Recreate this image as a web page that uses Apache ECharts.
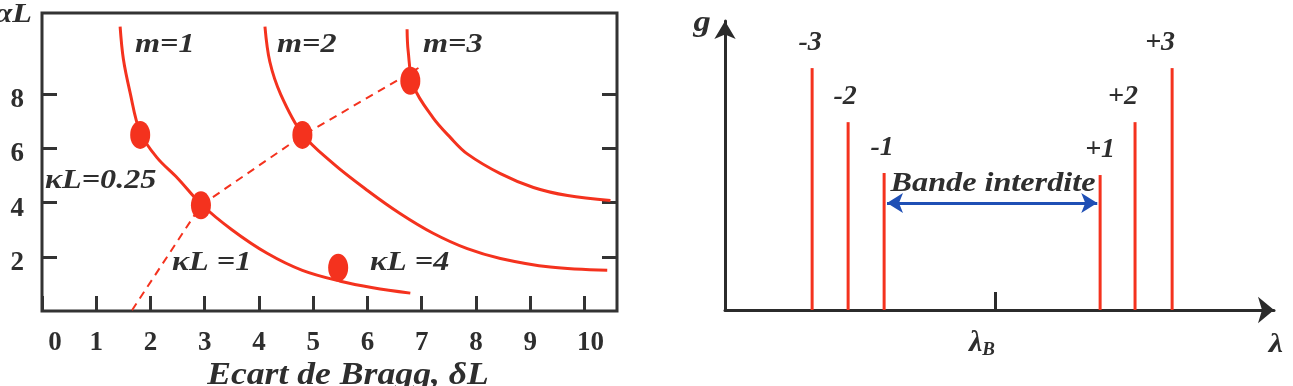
<!DOCTYPE html>
<html>
<head>
<meta charset="utf-8">
<script src="https://cdn.jsdelivr.net/npm/echarts@6/dist/echarts.min.js"></script>
<style>
  html, body { margin: 0; padding: 0; background: #fff; }
  #chart { width: 1293px; height: 386px; }
</style>
</head>
<body>
<div id="chart"></div>
<script>
// left panel : detuning dL vs gain aL for orders m=1..3
var xLabels = ['0', '1', '2', '3', '4', '5', '6', '7', '8', '9', '10'];
var yTickVals = [2, 4, 6, 8];
var curveM1 = [[1.44, 10.5], [1.5, 9.3], [1.62, 8.1], [1.81, 6.6], [2.12, 5.66], [2.5, 4.9],
               [2.93, 3.95], [3.5, 3.0], [4.15, 2.13], [4.8, 1.5], [5.5, 1.1], [6.1, 0.86], [6.79, 0.66]];
var curveM2 = [[4.11, 10.5], [4.2, 9.2], [4.4, 8.0], [4.8, 6.54], [5.37, 5.44], [6.0, 4.45],
               [6.6, 3.6], [7.21, 2.87], [7.84, 2.3], [8.45, 1.94], [9.37, 1.62], [10.42, 1.5]];
var curveM3 = [[6.73, 10.4], [6.75, 9.6], [6.85, 8.3], [7.21, 7.13], [7.53, 6.4], [7.84, 5.8],
               [8.45, 5.07], [9.06, 4.56], [9.69, 4.26], [10.48, 4.08]];
var kappaLine = [[1.66, 0.03], [2.93, 3.9], [4.8, 6.47], [6.94, 8.97]];
var dots = [[1.81, 6.5], [2.93, 3.9], [4.8, 6.5], [6.79, 8.5], [5.46, 1.6]];

// right panel : sticks around lambda_B
var stickPos = [-5.08, -4.08, -3.08, 2.92, 3.89, 4.92];
var stickHeight = [8.37, 6.5, 4.74, 4.67, 6.5, 8.37];
var stickLabels = ['-3', '-2', '-1', '+1', '+2', '+3'];
var bandEdges = [-3.08, 2.92];
var bandLevel = 3.7;

var RED = '#f4321e', INK = '#2e2e2e', FONT = '"Liberation Serif", "Times New Roman", serif';
var stickLabelShift = [-2, -3, -2, 0, -12, -12];

function txt(s, x, y, size, align) {
  return {
    type: 'text', x: x, y: y, z: 50, scaleX: 1.15,
    style: {
      text: s, fill: INK, textAlign: align || 'left', textVerticalAlign: 'middle',
      font: 'italic bold ' + size + 'px ' + FONT
    }
  };
}

var chart = echarts.init(document.getElementById('chart'));

var curveStyle = { type: 'line', smooth: 0.35, showSymbol: false, silent: true,
  lineStyle: { color: RED, width: 3 }, xAxisIndex: 0, yAxisIndex: 0 };

var tickFont = { fontFamily: FONT, fontWeight: 'bold', fontSize: 27, color: INK };

var option = {
  backgroundColor: '#fff',
  animation: false,
  grid: [
    { left: 42, top: 13, width: 575, height: 298, show: true, borderColor: '#333', borderWidth: 3 },
    { left: 725, top: 21, right: 19, bottom: 76 }
  ],
  xAxis: [
    {
      gridIndex: 0, type: 'value', min: 0, max: 10.6, interval: 1,
      axisLine: { show: false }, splitLine: { show: false },
      axisTick: { inside: true, length: 15, lineStyle: { color: '#333', width: 3 } },
      axisLabel: {
        showMaxLabel: false, margin: 19,
        fontFamily: FONT, fontWeight: 'bold', fontSize: 27, color: INK,
        formatter: function (v) {
          var s = xLabels[Math.round(v)];
          if (v === 0) return '{z|' + s + '}';
          if (v === 10) return '{t|' + s + '}';
          return '{n|' + s + '}';
        },
        rich: {
          n: tickFont,
          z: Object.assign({ padding: [0, 0, 0, 26] }, tickFont),
          t: Object.assign({ padding: [0, 0, 0, 12] }, tickFont)
        }
      }
    },
    {
      gridIndex: 1, type: 'value', min: -7.5, max: 7.75,
      splitLine: { show: false },
      axisLine: { onZero: false, lineStyle: { color: '#2b2b2b', width: 3 }, symbol: ['none', 'arrow'], symbolSize: [20, 16] },
      axisTick: { customValues: [0], inside: true, length: 18, lineStyle: { color: '#2b2b2b', width: 3 } },
      axisLabel: {
        customValues: [0], margin: 17, align: 'right',
        formatter: function () { return '{l|λ}{s|B}'; },
        rich: {
          l: { fontFamily: FONT, fontStyle: 'italic', fontWeight: 'bold', fontSize: 30, color: INK },
          s: { fontFamily: FONT, fontStyle: 'italic', fontWeight: 'bold', fontSize: 19, color: INK, padding: [14, 0, 0, 0] }
        }
      }
    }
  ],
  yAxis: [
    {
      gridIndex: 0, type: 'value', min: 0, max: 11,
      axisLine: { show: false }, splitLine: { show: false },
      axisTick: { customValues: yTickVals, inside: true, length: 15, lineStyle: { color: '#333', width: 3 } },
      axisLabel: {
        customValues: yTickVals, margin: 18,
        formatter: function (v) { return '{n|' + v + '}'; },
        rich: { n: Object.assign({ padding: [12, 0, 0, 0] }, tickFont) }
      }
    },
    {
      gridIndex: 0, type: 'value', min: 0, max: 11, position: 'right',
      axisLine: { show: false }, splitLine: { show: false }, axisLabel: { show: false },
      axisTick: { customValues: yTickVals, inside: true, length: 15, lineStyle: { color: '#333', width: 3 } }
    },
    {
      gridIndex: 1, type: 'value', min: 0, max: 10,
      splitLine: { show: false }, axisTick: { show: false }, axisLabel: { show: false },
      axisLine: { onZero: false, lineStyle: { color: '#2b2b2b', width: 3 }, symbol: ['none', 'arrow'], symbolSize: [16, 18] }
    }
  ],
  series: [
    Object.assign({ data: curveM1 }, curveStyle),
    Object.assign({ data: curveM2 }, curveStyle),
    Object.assign({ data: curveM3 }, curveStyle),
    {
      type: 'line', data: kappaLine, showSymbol: false, silent: true,
      lineStyle: { color: RED, width: 2, type: [8, 6] }
    },
    {
      type: 'scatter', data: dots, silent: true,
      symbol: 'path://M0,-1A1,1 0 1,1 0,1A1,1 0 1,1 0,-1Z', symbolSize: [20, 28],
      itemStyle: { color: RED, opacity: 1 }, z: 5
    },
    {
      type: 'bar', xAxisIndex: 1, yAxisIndex: 2, barWidth: 3, silent: true,
      itemStyle: { color: RED },
      data: stickPos.map(function (p, i) {
        return {
          value: [p, stickHeight[i]],
          label: {
            show: true, position: 'top', distance: 11, offset: [stickLabelShift[i], 0],
            formatter: stickLabels[i],
            fontFamily: FONT, fontStyle: 'italic', fontWeight: 'bold', fontSize: 28, color: INK
          }
        };
      }),
      markLine: {
        silent: true, symbol: ['arrow', 'arrow'], symbolSize: [15, 16],
        lineStyle: { color: '#1f4fb5', width: 3, type: 'solid' },
        label: { show: false },
        data: [[{ coord: [bandEdges[0] + 0.08, bandLevel] }, { coord: [bandEdges[1] - 0.08, bandLevel] }]]
      }
    }
  ],
  graphic: [
    txt('αL', 32, 15, 28, 'right'),
    txt('m=1', 135, 45, 28),
    txt('m=2', 277, 45, 28),
    txt('m=3', 423, 45, 28),
    txt('κL=0.25', 45, 181, 28),
    txt('κL =1', 172, 263, 28),
    txt('κL =4', 370, 263, 28),
    txt('Ecart de Bragg, δL', 348, 376, 31, 'center'),
    txt('g', 702, 23, 30, 'center'),
    txt('λ', 1276, 345, 28, 'center'),
    txt('Bande interdite', 993, 184, 28, 'center')
  ]
};

chart.setOption(option);
</script>
</body>
</html>
